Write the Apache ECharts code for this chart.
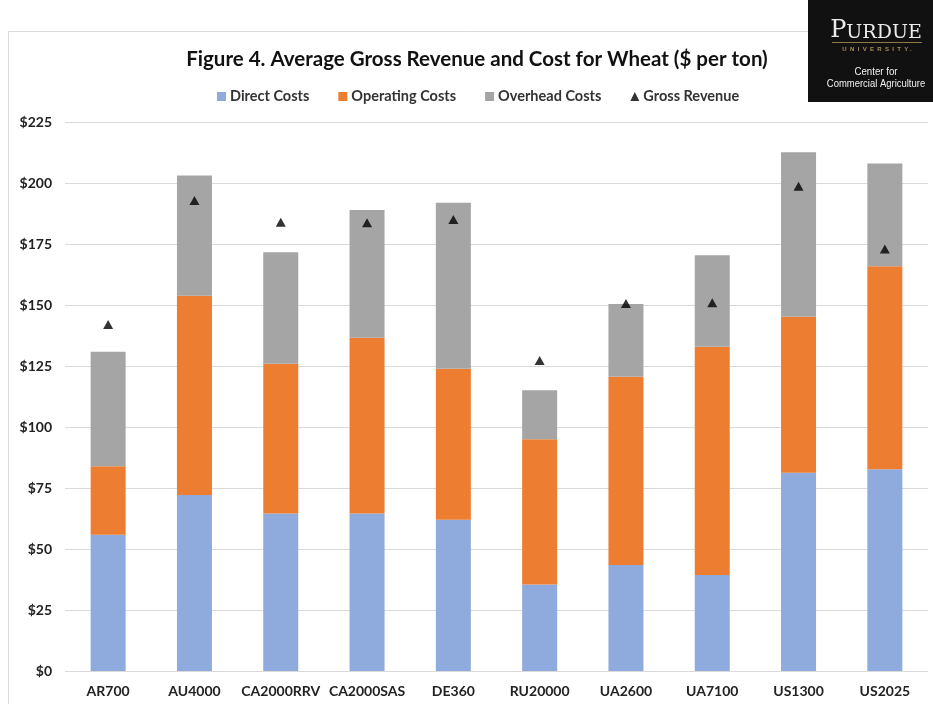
<!DOCTYPE html>
<html>
<head>
<meta charset="utf-8">
<script src="https://cdn.jsdelivr.net/npm/echarts@6/dist/echarts.min.js"></script>
<style>
  html, body { margin: 0; padding: 0; background: #fff; }
  #chart { width: 933px; height: 704px; }
</style>
</head>
<body>
<div id="chart"></div>
<script>
// Wheat cost structure by farm, $ per ton
const farms = ['AR700', 'AU4000', 'CA2000RRV', 'CA2000SAS', 'DE360', 'RU20000', 'UA2600', 'UA7100', 'US1300', 'US2025'];
const directCosts    = [55.8, 72.1, 64.5, 64.5, 62.0, 35.4, 43.4, 39.3, 81.2, 82.7];
const operatingCosts = [28.1, 81.7, 61.4, 72.1, 61.9, 59.6, 77.2, 93.6, 64.0, 83.2];
const overheadCosts  = [46.9, 49.3, 45.7, 52.3, 68.0, 20.1, 29.8, 37.5, 67.4, 42.1];
const grossRevenue   = [142.0, 192.8, 183.9, 183.7, 185.0, 127.3, 150.6, 150.9, 198.7, 173.0];
const yTicks = [0, 25, 50, 75, 100, 125, 150, 175, 200, 225];

const font = 'Lato, "Open Sans", sans-serif';
const chart = echarts.init(document.getElementById('chart'), null, { renderer: 'canvas' });

const barStyle = (name, data, color) => ({
  name, type: 'bar', stack: 'cost', data, barWidth: 35,
  itemStyle: { color }, emphasis: { disabled: true }
});

chart.setOption({
  animation: false,
  backgroundColor: '#ffffff',
  title: {
    text: 'Figure 4. Average Gross Revenue and Cost for Wheat ($ per ton)',
    left: 472, top: 44, textAlign: 'center',
    textStyle: { fontFamily: font, fontSize: 20.5, fontWeight: 'bold', color: '#111' }
  },
  legend: {
    top: 84, left: 212,
    itemWidth: 9, itemHeight: 9, itemGap: 29,
    textStyle: { fontFamily: font, fontSize: 14.5, fontWeight: 'bold', color: '#333', padding: [0, 0, 0, -1] },
    data: [
      { name: 'Direct Costs', icon: 'rect' },
      { name: 'Operating Costs', icon: 'rect' },
      { name: 'Overhead Costs', icon: 'rect' },
      { name: 'Gross Revenue', icon: 'triangle' }
    ]
  },
  grid: { left: 65, right: 5, top: 122, bottom: 33, containLabel: false },
  xAxis: {
    type: 'category', data: farms,
    axisLine: { show: false }, axisTick: { show: false },
    axisLabel: { interval: 0, fontFamily: font, fontSize: 14, fontWeight: 'bold', color: '#222', margin: 13 }
  },
  yAxis: {
    type: 'value', min: 0, max: 225, interval: 25,
    axisLine: { show: false }, axisTick: { show: false },
    splitLine: { lineStyle: { color: '#d9d9d9', width: 1.2 } },
    axisLabel: {
      fontFamily: font, fontSize: 14, fontWeight: 'bold', color: '#222', margin: 13,
      formatter: v => yTicks.includes(v) ? '$' + v : ''
    }
  },
  series: [
    barStyle('Direct Costs', directCosts, '#8faadc'),
    barStyle('Operating Costs', operatingCosts, '#ed7d31'),
    barStyle('Overhead Costs', overheadCosts, '#a5a5a5'),
    {
      name: 'Gross Revenue', type: 'scatter', data: grossRevenue,
      symbol: 'triangle', symbolSize: [10, 9],
      itemStyle: { color: '#000' }, emphasis: { disabled: true }, z: 5
    }
  ],
  graphic: [
    // chart frame
    { type: 'rect', shape: { x: 8.5, y: 31.5, width: 940, height: 700 },
      style: { fill: null, stroke: '#d9d9d9', lineWidth: 1 }, z: -1, silent: true },
    // Purdue badge
    { type: 'rect', shape: { x: 808, y: 0, width: 125, height: 102 },
      style: { fill: '#111111' }, z: 10, silent: true },
    { type: 'text', x: 876, y: 43, z: 11, silent: true,
      style: {
        text: '{a|P}{b|URDUE}', align: 'center', verticalAlign: 'bottom',
        rich: {
          a: { fill: '#ececec', font: '24px "DejaVu Serif", "Liberation Serif", serif', verticalAlign: 'bottom' },
          b: { fill: '#ececec', font: '19px "DejaVu Serif", "Liberation Serif", serif', verticalAlign: 'bottom' }
        }
      } },
    { type: 'rect', shape: { x: 832, y: 42, width: 90, height: 1 },
      style: { fill: '#8e7a45' }, z: 11, silent: true },
    { type: 'text', x: 877, y: 49, z: 11, silent: true,
      style: { text: 'U  N  I  V  E  R  S  I  T  Y .', fill: '#a8905a', font: 'bold 6px "Liberation Sans", sans-serif',
               align: 'center', verticalAlign: 'middle' } },
    { type: 'text', x: 876, y: 72, z: 11, silent: true, scaleX: 0.88,
      style: { text: 'Center for', fill: '#f0f0f0', font: '11px "Liberation Sans", sans-serif',
               align: 'center', verticalAlign: 'middle' } },
    { type: 'text', x: 876, y: 84, z: 11, silent: true, scaleX: 0.86,
      style: { text: 'Commercial Agriculture', fill: '#f0f0f0', font: '11px "Liberation Sans", sans-serif',
               align: 'center', verticalAlign: 'middle' } }
  ]
});
</script>
</body>
</html>
